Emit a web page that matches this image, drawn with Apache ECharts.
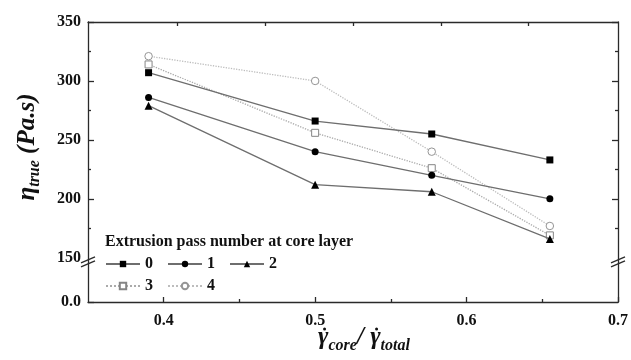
<!DOCTYPE html>
<html>
<head>
<meta charset="utf-8">
<script src="https://cdn.jsdelivr.net/npm/echarts@6/dist/echarts.min.js"></script>
<style>html,body{margin:0;padding:0;background:#fff}#c{width:631px;height:360px}</style>
</head>
<body>
<div id="c"></div>
<script>
// ---- data ----
var shearRatio = [0.39, 0.5, 0.577, 0.655];
var pass0 = [307, 266, 255, 233];
var pass1 = [286, 240, 220, 200];
var pass2 = [279, 212, 206, 166];
var pass3 = [314, 256, 226, 169];
var pass4 = [321, 300, 240, 177];
var seriesNames = ['0', '1', '2', '3', '4'];
var legendTitle = 'Extrusion pass number at core layer';
// axis ticks / labels
var xMin = 0.35, xMax = 0.7;
var xLabelValues = [0.4, 0.5, 0.6, 0.7];
var xMinorTicks = [0.45, 0.55, 0.65];
var xTopTicks = [0.409, 0.467, 0.525, 0.583, 0.641];
var yBreakBase = 112.5;           // position used for the "0.0" label below the axis break
var yMax = 350;
var yLabelValues = [yBreakBase, 150, 200, 250, 300, 350];
var yMajorTicks = [yBreakBase, 200, 250, 300, 350];
var yRightMajorTicks = [200, 250, 300, 350];
var yMinorTicks = [175, 225, 275, 325];
var yBreakAt = 150;

function pts(ys) { return ys.map(function (v, i) { return [shearRatio[i], v]; }); }

var FF = '"Liberation Serif", "DejaVu Serif", serif';
var AX = '#2a2a2a';
var chart = echarts.init(document.getElementById('c'), null, {renderer: 'canvas'});

function xAx(extra) {
  return Object.assign({
    type: 'value', min: xMin, max: xMax, position: 'bottom',
    splitLine: {show: false},
    axisLine: {show: false, onZero: false},
    axisTick: {show: false},
    axisLabel: {show: false}
  }, extra);
}
function yAx(extra) {
  return Object.assign({
    type: 'value', min: yBreakBase, max: yMax, position: 'left',
    splitLine: {show: false},
    axisLine: {show: false, onZero: false},
    axisTick: {show: false},
    axisLabel: {show: false}
  }, extra);
}

var solidLine = {color: '#6e6e6e', width: 1.3};
var dotLine3 = {color: '#aaaaaa', width: 1.3, type: 'dotted'};
var dotLine4 = {color: '#bdbdbd', width: 1.3, type: 'dotted'};

var legendText = {fontFamily: FF, fontWeight: 'bold', fontSize: 16, color: '#111'};
var tickStyle = {color: AX, width: 1.3};

var option = {
  backgroundColor: '#fff',
  animation: false,
  grid: {left: 88, top: 22, width: 532, height: 280, containLabel: false},
  xAxis: [
    xAx({
      axisLine: {show: true, onZero: false, lineStyle: {color: AX, width: 1.3}},
      axisTick: {show: true, inside: true, length: 5, customValues: xLabelValues, lineStyle: tickStyle},
      axisLabel: {show: true, margin: 11, customValues: xLabelValues,
        formatter: function (v) { return (+v).toFixed(1); },
        fontFamily: FF, fontWeight: 'bold', fontSize: 16, color: '#111'}
    }),
    xAx({axisTick: {show: true, inside: true, length: 3, customValues: xMinorTicks, lineStyle: tickStyle}}),
    xAx({position: 'top',
      axisLine: {show: true, onZero: false, lineStyle: {color: AX, width: 1.3}},
      axisTick: {show: true, inside: true, length: 4, customValues: xTopTicks, lineStyle: tickStyle}})
  ],
  yAxis: [
    yAx({
      axisLine: {show: true, onZero: false, lineStyle: {color: AX, width: 1.3}},
      axisTick: {show: true, inside: true, length: 6, customValues: yMajorTicks, lineStyle: tickStyle},
      axisLabel: {show: true, margin: 7, customValues: yLabelValues,
        formatter: function (v) { return v < 140 ? '0.0' : String(Math.round(v)); },
        fontFamily: FF, fontWeight: 'bold', fontSize: 16, color: '#111'}
    }),
    yAx({axisTick: {show: true, inside: true, length: 3, customValues: yMinorTicks, lineStyle: tickStyle}}),
    yAx({position: 'right',
      axisLine: {show: true, onZero: false, lineStyle: {color: AX, width: 1.3}},
      axisTick: {show: true, inside: true, length: 6, customValues: yRightMajorTicks, lineStyle: tickStyle}}),
    yAx({position: 'right',
      axisTick: {show: true, inside: true, length: 3, customValues: yMinorTicks, lineStyle: tickStyle}})
  ],
  legend: [
    {data: seriesNames.slice(0, 3), left: 105, top: 256, padding: 0, itemWidth: 34, itemHeight: 8,
      itemGap: 14, textStyle: legendText, selectedMode: false},
    {data: seriesNames.slice(3), left: 105, top: 278, padding: 0, itemWidth: 34, itemHeight: 8,
      itemGap: 14, textStyle: legendText, selectedMode: false}
  ],
  series: [
    {name: seriesNames[0], type: 'line', data: pts(pass0), symbol: 'rect', symbolSize: 7,
      lineStyle: solidLine, itemStyle: {color: '#000'}, z: 5},
    {name: seriesNames[1], type: 'line', data: pts(pass1), symbol: 'circle', symbolSize: 7,
      lineStyle: solidLine, itemStyle: {color: '#000'}, z: 5},
    {name: seriesNames[2], type: 'line', data: pts(pass2), symbol: 'triangle', symbolSize: 8,
      lineStyle: solidLine, itemStyle: {color: '#000'}, z: 5},
    {name: seriesNames[3], type: 'line', data: pts(pass3), symbol: 'rect', symbolSize: 7,
      lineStyle: dotLine3, itemStyle: {color: '#fff', borderColor: '#858585', borderWidth: 1}, z: 4},
    {name: seriesNames[4], type: 'line', data: pts(pass4), symbol: 'circle', symbolSize: 7.5,
      lineStyle: dotLine4, itemStyle: {color: '#fff', borderColor: '#959595', borderWidth: 1}, z: 4}
  ]
};
chart.setOption(option);

// decorations: axis titles, legend title, axis break marks
var xl = chart.convertToPixel({xAxisIndex: 0}, xMin);
var xr = chart.convertToPixel({xAxisIndex: 0}, xMax);
var yb = chart.convertToPixel({yAxisIndex: 0}, yBreakAt) + 3;
var yTop = chart.convertToPixel({yAxisIndex: 0}, yMax);
var yBot = chart.convertToPixel({yAxisIndex: 0}, yBreakBase);

function breakMark(x) {
  return {
    type: 'group', z: 100,
    children: [
      {type: 'polygon', shape: {points: [[x - 7, yb + 2], [x + 7, yb - 4], [x + 7, yb], [x - 7, yb + 6]]},
        style: {fill: '#fff'}},
      {type: 'line', shape: {x1: x - 7, y1: yb + 2, x2: x + 7, y2: yb - 4}, style: {stroke: AX, lineWidth: 1.3}},
      {type: 'line', shape: {x1: x - 7, y1: yb + 6, x2: x + 7, y2: yb}, style: {stroke: AX, lineWidth: 1.3}}
    ]
  };
}

// x-axis title, composed piece by piece: γ̇core / γ̇total
var mctx = document.createElement('canvas').getContext('2d');
function textW(s, size) {
  mctx.font = 'italic bold ' + size + 'px "Liberation Serif"';
  return mctx.measureText(s).width;
}
var bigSize = 25, subSize = 16;
var xNamePieces = [
  {t: 'γ', big: true, dot: true}, {t: 'core', big: false},
  {t: '/ ', big: true}, {t: 'γ', big: true, dot: true}, {t: 'total', big: false}
];
var totalW = 0;
xNamePieces.forEach(function (p) { p.w = textW(p.t, p.big ? bigSize : subSize); totalW += p.w; });
var xNameCenter = (xl + xr) / 2 + 11;
var xNameMid = 338;
var cx = xNameCenter - totalW / 2;
var xNameEls = [];
xNamePieces.forEach(function (p) {
  xNameEls.push({type: 'text', x: cx, y: p.big ? xNameMid : xNameMid + 8, z: 100,
    style: {text: p.t, fontFamily: FF, fontWeight: 'bold', fontStyle: 'italic',
      fontSize: p.big ? bigSize : subSize, fill: '#111', align: 'left', verticalAlign: 'middle'}});
  if (p.dot) {
    xNameEls.push({type: 'circle', z: 100, shape: {cx: cx + p.w * 0.62, cy: xNameMid - 9, r: 1.5},
      style: {fill: '#111'}});
  }
  cx += p.w;
});

chart.setOption({
  graphic: [
    breakMark(xl), breakMark(xr),
    {type: 'text', x: 105, y: 242, z: 100,
      style: {text: legendTitle, fontFamily: FF, fontWeight: 'bold', fontSize: 16, fill: '#111',
        align: 'left', verticalAlign: 'middle'}},
    {type: 'text', x: 28, y: (yTop + yBot) / 2 - 15, rotation: Math.PI / 2, z: 100,
      style: {text: '{m|η}{s|true}{m| (Pa.s)}', align: 'center', verticalAlign: 'middle',
        rich: {
          m: {fontFamily: FF, fontWeight: 'bold', fontStyle: 'italic', fontSize: 25, lineHeight: 30, fill: '#111'},
          s: {fontFamily: FF, fontWeight: 'bold', fontStyle: 'italic', fontSize: 16, lineHeight: 16, verticalAlign: 'bottom', fill: '#111'}
        }}}
  ].concat(xNameEls)
});
</script>
</body>
</html>
